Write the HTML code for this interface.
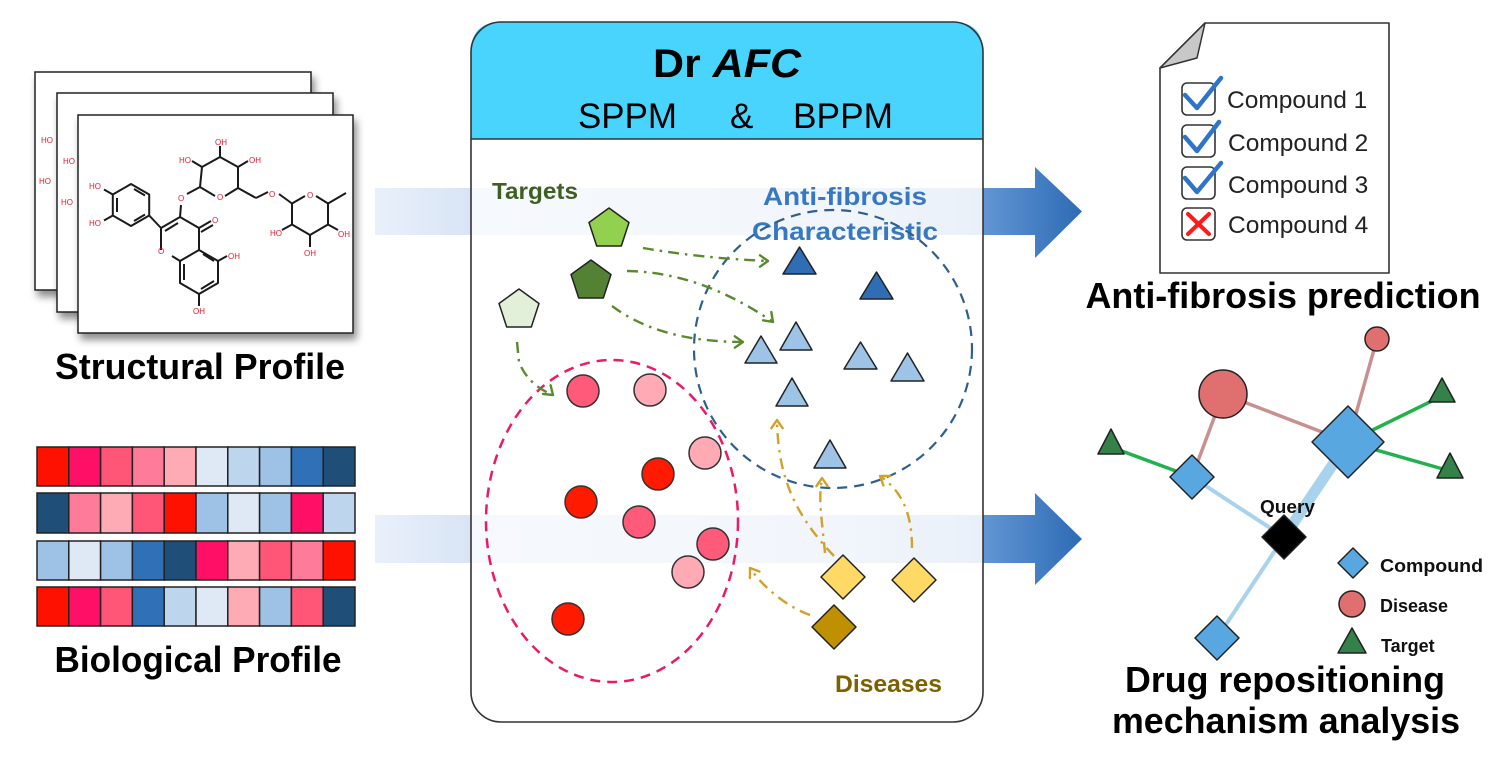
<!DOCTYPE html>
<html>
<head>
<meta charset="utf-8">
<style>
  html,body{margin:0;padding:0;background:#fff;}
  svg{display:block;}
  text{font-family:"Liberation Sans",Arial,sans-serif;}
</style>
</head>
<body>
<svg width="1498" height="768" viewBox="0 0 1498 768" xmlns="http://www.w3.org/2000/svg">
  <defs>
    <filter id="sh" x="-10%" y="-10%" width="130%" height="130%">
      <feDropShadow dx="3" dy="6" stdDeviation="4" flood-color="#000" flood-opacity="0.45"/>
    </filter>
    <linearGradient id="bandL" x1="0" x2="1" y1="0" y2="0">
      <stop offset="0" stop-color="#e9f0fa"/>
      <stop offset="1" stop-color="#d8e4f5"/>
    </linearGradient>
    <linearGradient id="bandM" x1="0" x2="1" y1="0" y2="0">
      <stop offset="0" stop-color="#f6f9fd"/>
      <stop offset="0.7" stop-color="#f2f6fc"/>
      <stop offset="1" stop-color="#eaf0f9"/>
    </linearGradient>
    <linearGradient id="bandR" x1="983" x2="1082" y1="0" y2="0" gradientUnits="userSpaceOnUse">
      <stop offset="0" stop-color="#6296d4"/>
      <stop offset="1" stop-color="#2d6bb5"/>
    </linearGradient>
  </defs>

  <!-- left bands -->
  <rect x="375" y="188" width="97" height="47" fill="url(#bandL)"/>
  <rect x="375" y="515" width="97" height="48" fill="url(#bandL)"/>
  <!-- right arrows -->
  <polygon points="983,188 1035,188 1035,167 1082,211.5 1035,258 1035,235 983,235" fill="url(#bandR)"/>
  <polygon points="983,515 1035,515 1035,493 1082,539 1035,585 1035,563 983,563" fill="url(#bandR)"/>

  <!-- ============ molecule cards ============ -->
  <rect x="35" y="72" width="276" height="218" fill="#fff" stroke="#222" stroke-width="1.5" filter="url(#sh)"/>
  <g font-size="8" fill="#e8192c">
    <text x="41" y="143">HO</text>
    <text x="39" y="184">HO</text>
  </g>
  <rect x="57" y="93" width="276" height="219" fill="#fff" stroke="#222" stroke-width="1.5" filter="url(#sh)"/>
  <g font-size="8" fill="#e8192c">
    <text x="63" y="164">HO</text>
    <text x="61" y="205">HO</text>
  </g>
  <rect x="78" y="115" width="275" height="218" fill="#fff" stroke="#222" stroke-width="1.5" filter="url(#sh)"/>

  <!-- molecule bonds -->
  <g stroke="#1a1a1a" stroke-width="2" fill="none" stroke-linejoin="round">
    <!-- catechol ring -->
    <polygon points="131,184 149.2,194.5 149.2,215.5 131,226 112.8,215.5 112.8,194.5"/>
    <line x1="134" y1="189" x2="145" y2="195.5"/>
    <line x1="145" y1="214.5" x2="134" y2="221"/>
    <line x1="117" y1="212" x2="117" y2="198"/>
    <line x1="112.8" y1="194.5" x2="104" y2="189.5"/>
    <line x1="112.8" y1="215.5" x2="104" y2="220.5"/>
    <line x1="149.2" y1="215.5" x2="161" y2="228"/>
    <!-- pyranone -->
    <polyline points="161,250 161,228 180,217 199,228 199,250 180,261 172,256"/>
    <line x1="165" y1="231" x2="178" y2="223"/>
    <!-- A ring -->
    <polyline points="199,250 218,261 218,283 199,294 180,283 180,261"/>
    <line x1="203" y1="254" x2="214" y2="261"/>
    <line x1="214" y1="281" x2="201" y2="289"/>
    <line x1="184" y1="264" x2="184" y2="280"/>
    <line x1="218" y1="261" x2="227" y2="256"/>
    <line x1="199" y1="294" x2="199" y2="306"/>
    <!-- ketone -->
    <line x1="199" y1="228" x2="211" y2="221"/>
    <line x1="201" y1="232" x2="213" y2="225"/>
    <!-- O3 link -->
    <line x1="180" y1="217" x2="181" y2="205"/>
    <line x1="187" y1="194" x2="200" y2="187"/>
    <!-- glucose -->
    <polyline points="215,196 200,187 202,167 220,157 238,167 238,188 225,196"/>
    <line x1="202" y1="167" x2="192" y2="161"/>
    <line x1="220" y1="157" x2="220" y2="146"/>
    <line x1="238" y1="167" x2="248" y2="161"/>
    <line x1="238" y1="188" x2="256" y2="198"/>
    <line x1="256" y1="198" x2="268" y2="192"/>
    <line x1="279" y1="194" x2="292" y2="203.5"/>
    <!-- rhamnose -->
    <polyline points="305,196 292,203.5 292,224.5 310,235 328,224.5 328,203.5 316,196"/>
    <line x1="328" y1="203.5" x2="346" y2="193"/>
    <line x1="292" y1="224.5" x2="282" y2="230"/>
    <line x1="310" y1="235" x2="310" y2="247"/>
    <line x1="328" y1="224.5" x2="338" y2="230"/>
  </g>
  <g font-size="8" fill="#e8192c">
    <text x="89" y="189">HO</text>
    <text x="89" y="226">HO</text>
    <text x="158" y="254">O</text>
    <text x="212" y="223">O</text>
    <text x="178" y="201">O</text>
    <text x="217" y="200">O</text>
    <text x="228" y="259">OH</text>
    <text x="193" y="314">OH</text>
    <text x="179" y="163">HO</text>
    <text x="215" y="145">OH</text>
    <text x="249" y="163">OH</text>
    <text x="269" y="197">O</text>
    <text x="307" y="198">O</text>
    <text x="270" y="236">HO</text>
    <text x="304" y="256">OH</text>
    <text x="338" y="237">OH</text>
  </g>

  <text x="200" y="379" font-size="36" font-weight="bold" text-anchor="middle" textLength="290" lengthAdjust="spacingAndGlyphs" fill="#000">Structural Profile</text>

  <!-- ============ heatmap ============ -->
  <g stroke="#222" stroke-width="1.5">
    <!-- row1 -->
    <rect x="37" y="447" width="31.8" height="39" fill="#ff1100"/>
    <rect x="68.8" y="447" width="31.8" height="39" fill="#ff0f66"/>
    <rect x="100.6" y="447" width="31.8" height="39" fill="#ff5577"/>
    <rect x="132.4" y="447" width="31.8" height="39" fill="#ff7b9a"/>
    <rect x="164.2" y="447" width="31.8" height="39" fill="#ffabb5"/>
    <rect x="196" y="447" width="31.8" height="39" fill="#dfe9f6"/>
    <rect x="227.8" y="447" width="31.8" height="39" fill="#bdd6ee"/>
    <rect x="259.6" y="447" width="31.8" height="39" fill="#9dc2e6"/>
    <rect x="291.4" y="447" width="31.8" height="39" fill="#2f70b6"/>
    <rect x="323.2" y="447" width="31.8" height="39" fill="#1f4e79"/>
    <!-- row2 -->
    <rect x="37" y="493" width="31.8" height="40" fill="#1f4e79"/>
    <rect x="68.8" y="493" width="31.8" height="40" fill="#ff7b9a"/>
    <rect x="100.6" y="493" width="31.8" height="40" fill="#ffabb5"/>
    <rect x="132.4" y="493" width="31.8" height="40" fill="#ff5577"/>
    <rect x="164.2" y="493" width="31.8" height="40" fill="#ff1100"/>
    <rect x="196" y="493" width="31.8" height="40" fill="#9dc2e6"/>
    <rect x="227.8" y="493" width="31.8" height="40" fill="#dfe9f6"/>
    <rect x="259.6" y="493" width="31.8" height="40" fill="#9dc2e6"/>
    <rect x="291.4" y="493" width="31.8" height="40" fill="#ff0f66"/>
    <rect x="323.2" y="493" width="31.8" height="40" fill="#bdd6ee"/>
    <!-- row3 -->
    <rect x="37" y="541" width="31.8" height="39" fill="#9dc2e6"/>
    <rect x="68.8" y="541" width="31.8" height="39" fill="#dfe9f6"/>
    <rect x="100.6" y="541" width="31.8" height="39" fill="#9dc2e6"/>
    <rect x="132.4" y="541" width="31.8" height="39" fill="#2f70b6"/>
    <rect x="164.2" y="541" width="31.8" height="39" fill="#1f4e79"/>
    <rect x="196" y="541" width="31.8" height="39" fill="#ff0f66"/>
    <rect x="227.8" y="541" width="31.8" height="39" fill="#ffabb5"/>
    <rect x="259.6" y="541" width="31.8" height="39" fill="#ff5577"/>
    <rect x="291.4" y="541" width="31.8" height="39" fill="#ff7b9a"/>
    <rect x="323.2" y="541" width="31.8" height="39" fill="#ff1100"/>
    <!-- row4 -->
    <rect x="37" y="587" width="31.8" height="39" fill="#ff1100"/>
    <rect x="68.8" y="587" width="31.8" height="39" fill="#ff0f66"/>
    <rect x="100.6" y="587" width="31.8" height="39" fill="#ff5577"/>
    <rect x="132.4" y="587" width="31.8" height="39" fill="#2f70b6"/>
    <rect x="164.2" y="587" width="31.8" height="39" fill="#bdd6ee"/>
    <rect x="196" y="587" width="31.8" height="39" fill="#dfe9f6"/>
    <rect x="227.8" y="587" width="31.8" height="39" fill="#ffabb5"/>
    <rect x="259.6" y="587" width="31.8" height="39" fill="#9dc2e6"/>
    <rect x="291.4" y="587" width="31.8" height="39" fill="#ff5577"/>
    <rect x="323.2" y="587" width="31.8" height="39" fill="#1f4e79"/>
  </g>
  <text x="198" y="672" font-size="36" font-weight="bold" text-anchor="middle" textLength="287" lengthAdjust="spacingAndGlyphs" fill="#000">Biological Profile</text>

  <!-- ============ central box ============ -->
  <rect x="471" y="22" width="512" height="700" rx="30" ry="30" fill="#fff"/>
  <rect x="472" y="188" width="510" height="47" fill="url(#bandM)"/>
  <rect x="472" y="515" width="510" height="48" fill="url(#bandM)"/>
  <path d="M471,139 L471,52 Q471,22 501,22 L953,22 Q983,22 983,52 L983,139 Z" fill="#48d4fc"/>
  <line x1="471" y1="139" x2="983" y2="139" stroke="#333" stroke-width="1.5"/>
  <rect x="471" y="22" width="512" height="700" rx="30" ry="30" fill="none" stroke="#333" stroke-width="1.6"/>

  <text x="727" y="77" font-size="40" font-weight="bold" text-anchor="middle" textLength="148" lengthAdjust="spacingAndGlyphs" fill="#000">Dr <tspan font-style="italic">AFC</tspan></text>
  <text x="578" y="128" font-size="35" textLength="99" lengthAdjust="spacingAndGlyphs" fill="#000">SPPM</text>
  <text x="730" y="128" font-size="35" fill="#000">&amp;</text>
  <text x="793" y="128" font-size="35" textLength="100" lengthAdjust="spacingAndGlyphs" fill="#000">BPPM</text>

  <!-- labels -->
  <text x="492" y="199" font-size="23" font-weight="bold" fill="#3f5f22" textLength="86" lengthAdjust="spacingAndGlyphs">Targets</text>
  <text x="845" y="205" font-size="25" font-weight="bold" fill="#3878c0" text-anchor="middle" textLength="164" lengthAdjust="spacingAndGlyphs">Anti-fibrosis</text>
  <text x="845" y="240" font-size="25" font-weight="bold" fill="#3878c0" text-anchor="middle" textLength="186" lengthAdjust="spacingAndGlyphs">Characteristic</text>
  <text x="835" y="692" font-size="24" font-weight="bold" fill="#7f6000" textLength="107" lengthAdjust="spacingAndGlyphs">Diseases</text>

  <!-- dashed groups -->
  <ellipse cx="612" cy="521" rx="126" ry="161" fill="none" stroke="#ec1a64" stroke-width="2.5" stroke-dasharray="10 7"/>
  <ellipse cx="833" cy="349" rx="139" ry="139" fill="none" stroke="#2f5f8f" stroke-width="2.2" stroke-dasharray="10 7"/>

  <!-- green dash-dot arrows -->
  <g fill="none" stroke="#5b8a2e" stroke-width="2.4" stroke-dasharray="11 6 2.5 6">
    <path d="M643,248 Q 700,258 768,261"/>
    <path d="M627,271 Q 700,272 773,322"/>
    <path d="M612,306 Q 660,342 743,342"/>
    <path d="M517,342 L 519,362 Q 528,385 553,395"/>
  </g>
  <g fill="none" stroke="#5b8a2e" stroke-width="2.4" stroke-linecap="round" stroke-linejoin="round">
    <polyline points="760,255.3 768,261 760,266.7"/>
    <polyline points="771.3,312.1 773,322 763.1,320.3"/>
    <polyline points="734.8,336.3 743,342 734.8,347.7"/>
    <polyline points="550.6,385.3 553,395 543,393.9"/>
  </g>

  <!-- gold dash-dot arrows -->
  <g fill="none" stroke="#d1a12a" stroke-width="2.4" stroke-dasharray="11 6 2.5 6">
    <path d="M834,556 C 790,510 778,470 777,420"/>
    <path d="M825,553 C 822,520 818,500 822,478"/>
    <path d="M912,548 C 912,510 900,490 880,476"/>
    <path d="M810,615 C 790,608 765,590 750,568"/>
  </g>
  <g fill="none" stroke="#d1a12a" stroke-width="2.4" stroke-linecap="round" stroke-linejoin="round">
    <polyline points="771.3,428.2 777,420 782.7,428.2"/>
    <polyline points="816.3,486.2 822,478 827.7,486.2"/>
    <polyline points="883.4,485.4 880,476 890,476"/>
    <polyline points="749.9,578 750,568 759.4,571.5"/>
  </g>

  <!-- pentagons -->
  <g stroke="#222" stroke-width="1.5" stroke-linejoin="round">
    <polygon points="609,208 629,222.5 621.3,246 596.7,246 589,222.5" fill="#92d050"/>
    <polygon points="591,260 611,274.5 603.3,298 578.7,298 571,274.5" fill="#548235"/>
    <polygon points="519,289 539,303.5 531.3,327 506.7,327 499,303.5" fill="#e2f0d9"/>
  </g>

  <!-- triangles -->
  <g stroke="#222" stroke-width="1.5" stroke-linejoin="round">
    <polygon points="799.5,247 816,274 783,274" fill="#2f6db5"/>
    <polygon points="876.5,272 893,299 860,299" fill="#2f6db5"/>
    <polygon points="761,336 777,363 745,363" fill="#9dc3e6"/>
    <polygon points="796,322 812,350 780,350" fill="#9dc3e6"/>
    <polygon points="860.5,342 877,369 844,369" fill="#9dc3e6"/>
    <polygon points="907.5,353 924,381 891,381" fill="#9dc3e6"/>
    <polygon points="792,378 808,406 776,406" fill="#9dc3e6"/>
    <polygon points="830,440 846,468 814,468" fill="#9dc3e6"/>
  </g>

  <!-- circles -->
  <g stroke="#333" stroke-width="1.5">
    <circle cx="583" cy="391" r="16" fill="#ff5a7a"/>
    <circle cx="650" cy="390" r="16" fill="#ffaab4"/>
    <circle cx="705" cy="453" r="16" fill="#ffaab4"/>
    <circle cx="658" cy="474" r="16" fill="#ff1a00"/>
    <circle cx="581" cy="502" r="16" fill="#ff1a00"/>
    <circle cx="639" cy="522" r="16" fill="#ff5a7a"/>
    <circle cx="713" cy="544" r="16" fill="#ff5a7a"/>
    <circle cx="688" cy="572" r="16" fill="#ffaab4"/>
    <circle cx="568" cy="619" r="16" fill="#ff1a00"/>
  </g>

  <!-- diamonds -->
  <g stroke="#222" stroke-width="1.5" stroke-linejoin="round">
    <polygon points="843,555 865,577 843,599 821,577" fill="#ffd966"/>
    <polygon points="914,558 936,580 914,602 892,580" fill="#ffd966"/>
    <polygon points="834,605 856,627 834,649 812,627" fill="#bf9000"/>
  </g>

  <!-- ============ right: document ============ -->
  <polygon points="1205,23 1389,23 1389,273 1160,273 1160,68" fill="#fff" stroke="#333" stroke-width="1.6" stroke-linejoin="round"/>
  <polygon points="1160,68 1197,58 1205,23" fill="#c8c8c8" stroke="#333" stroke-width="1.5" stroke-linejoin="round"/>
  <g fill="none" stroke="#333" stroke-width="1.6">
    <rect x="1182" y="83" width="33" height="32" rx="5"/>
    <rect x="1182" y="125" width="33" height="32" rx="5"/>
    <rect x="1182" y="167" width="33" height="32" rx="5"/>
    <rect x="1182" y="208" width="33" height="32" rx="5"/>
  </g>
  <g fill="none" stroke="#2e75c8" stroke-width="4.5" stroke-linecap="round" stroke-linejoin="round">
    <polyline points="1185,95 1197,108 1221,78"/>
    <polyline points="1185,137 1197,151 1219,122"/>
    <polyline points="1185,178 1197,192 1221,163"/>
  </g>
  <g stroke="#ff1a1a" stroke-width="4" stroke-linecap="round">
    <line x1="1188" y1="214" x2="1209" y2="234"/>
    <line x1="1209" y1="214" x2="1188" y2="234"/>
  </g>
  <g font-size="24.5" fill="#222">
    <text x="1227" y="108">Compound 1</text>
    <text x="1228" y="151">Compound 2</text>
    <text x="1228" y="193">Compound 3</text>
    <text x="1228" y="233">Compound 4</text>
  </g>
  <text x="1283" y="308" font-size="36" font-weight="bold" text-anchor="middle" textLength="395" lengthAdjust="spacingAndGlyphs" fill="#000">Anti-fibrosis prediction</text>

  <!-- ============ right: network ============ -->
  <g stroke-linecap="round" fill="none">
    <line x1="1223" y1="394" x2="1192" y2="477" stroke="#c99090" stroke-width="3.5"/>
    <line x1="1223" y1="394" x2="1348" y2="442" stroke="#c99090" stroke-width="3.5"/>
    <line x1="1377" y1="339" x2="1348" y2="442" stroke="#c99090" stroke-width="3.5"/>
    <line x1="1111" y1="447" x2="1192" y2="477" stroke="#22b14c" stroke-width="3.5"/>
    <line x1="1348" y1="442" x2="1442" y2="396" stroke="#22b14c" stroke-width="3.5"/>
    <line x1="1348" y1="442" x2="1450" y2="471" stroke="#22b14c" stroke-width="3.5"/>
    <line x1="1192" y1="477" x2="1284" y2="537" stroke="#a9d3ec" stroke-width="4"/>
    <line x1="1348" y1="442" x2="1284" y2="537" stroke="#a9d3ec" stroke-width="11"/>
    <line x1="1284" y1="537" x2="1217" y2="638" stroke="#a9d3ec" stroke-width="4"/>
  </g>
  <g stroke="#222" stroke-width="1.5" stroke-linejoin="round">
    <circle cx="1223" cy="394" r="24" fill="#e07070"/>
    <circle cx="1377" cy="339" r="12" fill="#e07070"/>
    <polygon points="1111,429 1124,454 1098,454" fill="#35814a"/>
    <polygon points="1442,378 1455,402 1429,402" fill="#35814a"/>
    <polygon points="1450,453 1463,478 1437,478" fill="#35814a"/>
    <polygon points="1348,406 1384,442 1348,478 1312,442" fill="#58a7e0"/>
    <polygon points="1192,455 1214,477 1192,499 1170,477" fill="#58a7e0"/>
    <polygon points="1217,616 1239,638 1217,660 1195,638" fill="#58a7e0"/>
    <polygon points="1284,515 1306,537 1284,559 1262,537" fill="#000"/>
    <!-- legend -->
    <polygon points="1353,548 1368,563 1353,578 1338,563" fill="#58a7e0"/>
    <circle cx="1352" cy="604" r="13" fill="#e07070"/>
    <polygon points="1352,628 1366,653 1338,653" fill="#35814a"/>
  </g>
  <text x="1260" y="513" font-size="18" font-weight="bold" fill="#111" textLength="55" lengthAdjust="spacingAndGlyphs">Query</text>
  <g font-size="18" font-weight="bold" fill="#111">
    <text x="1380" y="572" textLength="103" lengthAdjust="spacingAndGlyphs">Compound</text>
    <text x="1380" y="612">Disease</text>
    <text x="1381" y="652">Target</text>
  </g>
  <text x="1285" y="692" font-size="36" font-weight="bold" text-anchor="middle" textLength="320" lengthAdjust="spacingAndGlyphs" fill="#000">Drug repositioning</text>
  <text x="1286" y="733" font-size="36" font-weight="bold" text-anchor="middle" textLength="348" lengthAdjust="spacingAndGlyphs" fill="#000">mechanism analysis</text>
</svg>
</body>
</html>
